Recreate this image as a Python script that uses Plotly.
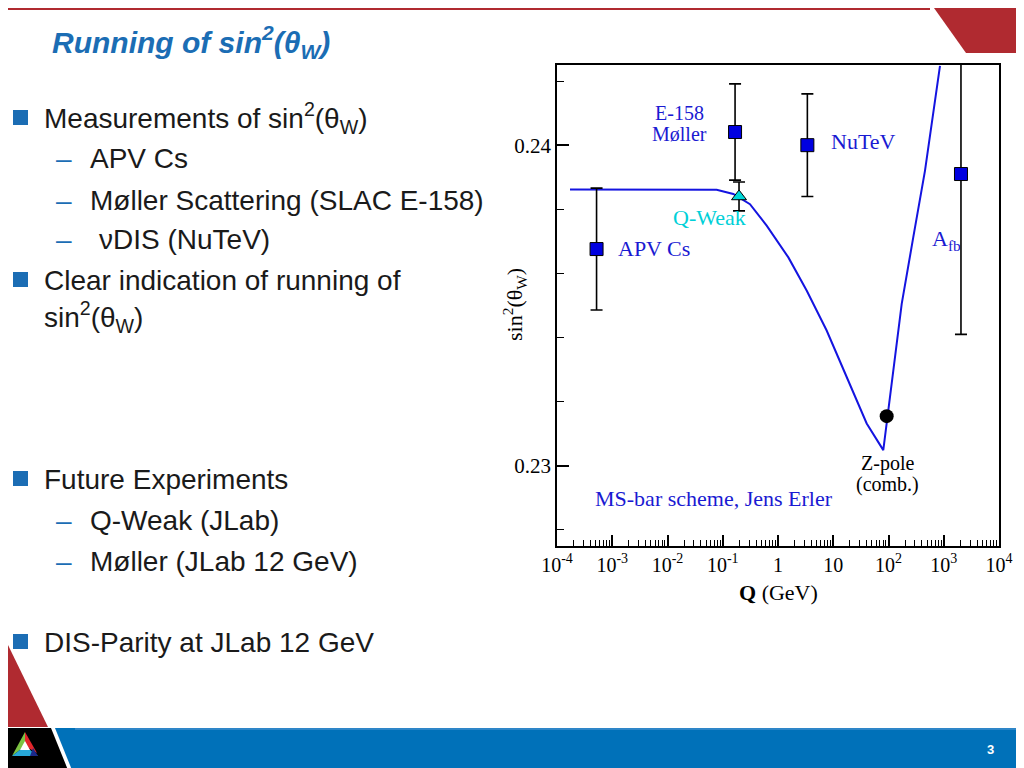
import plotly.graph_objects as go

W, H = 1024, 768
OFF = 8  # page body margin in the viewer


def px(x):
    return (x - OFF) / W


def py(y):
    return 1 - (y - OFF) / H


def poly(pts):
    s = "M " + " L ".join(f"{px(x):.5f},{py(y):.5f}" for x, y in pts) + " Z"
    return s


# ---------------- data ----------------
exp_names = ["APV Cs", "E-158 Møller", "NuTeV", "A_fb"]
exp_q = [5.2e-4, 0.167, 3.4, 2050.0]
exp_s2 = [0.23676, 0.24041, 0.2400, 0.2391]
exp_err = [0.0019, 0.0015, 0.0016, 0.0050]

qweak_q = [0.197]
qweak_s2 = [0.2384]
qweak_err = [0.00045]

zpole_q = [92.7]
zpole_s2 = [0.23155]

curve_q = [1.72e-4, 0.0387, 0.0776, 0.155, 0.311, 0.624, 1.54, 3.30, 7.60,
           17.5, 40.3, 80.5, 92.7, 173.4, 281.0, 457.0, 855.0]
curve_s2 = [0.23862, 0.23862, 0.23861, 0.23848, 0.23816, 0.23749, 0.23650,
            0.23547, 0.23422, 0.23277, 0.23132, 0.23049, 0.23132, 0.23505,
            0.23713, 0.2392, 0.24247]

x_tickvals = [1e-4, 1e-3, 1e-2, 1e-1, 1, 10, 1e2, 1e3, 1e4]
x_ticktext = ["10<sup>-4</sup>", "10<sup>-3</sup>", "10<sup>-2</sup>", "10<sup>-1</sup>",
              "1", "10", "10<sup>2</sup>", "10<sup>3</sup>", "10<sup>4</sup>"]
x_minor = [k * 10.0 ** n for n in range(-4, 4) for k in range(2, 10)]
y_tickvals = [0.23, 0.24]
y_ticktext = ["0.23", "0.24"]
y_minor = [0.228, 0.232, 0.234, 0.236, 0.238, 0.242]

SERIF = "Liberation Serif, Times New Roman, serif"
SANS = "Liberation Sans, Arial, sans-serif"
CBLUE = "#1a1ad2"
SLIDE_BLUE = "#1b6db4"
TXT = "#1a1a1a"

fig = go.Figure()

fig.add_trace(go.Scatter(x=curve_q, y=curve_s2, mode="lines",
                         line=dict(color="#1414e0", width=2), hoverinfo="skip"))

fig.add_trace(go.Scatter(
    x=exp_q, y=exp_s2, mode="markers", name="data",
    marker=dict(symbol="square", size=13, color="#0000e0",
                line=dict(color="black", width=1)),
    error_y=dict(type="data", array=exp_err, color="black", thickness=1.6, width=6)))

fig.add_trace(go.Scatter(
    x=qweak_q, y=qweak_s2, mode="markers",
    marker=dict(symbol="triangle-up", size=13, color="#00d8d8",
                line=dict(color="black", width=1)),
    error_y=dict(type="data", array=qweak_err, color="black", thickness=1.6, width=6)))

fig.add_trace(go.Scatter(
    x=zpole_q, y=zpole_s2, mode="markers",
    marker=dict(symbol="circle", size=14, color="black")))

fig.update_layout(
    width=W, height=H, margin=dict(l=0, r=0, t=0, b=0, pad=0, autoexpand=False),
    autosize=False,
    paper_bgcolor="white", plot_bgcolor="white", showlegend=False,
    xaxis=dict(type="log", range=[-4, 4], domain=[px(557), px(999)],
               automargin=False,
               showline=True, mirror=True, linecolor="black", linewidth=1.5,
               showgrid=False, zeroline=False,
               tickmode="array", tickvals=x_tickvals, ticktext=x_ticktext,
               ticks="inside", ticklen=11, tickwidth=1.5, tickcolor="black",
               tickfont=dict(family=SERIF, size=20, color="black"),
               minor=dict(tickmode="array", tickvals=x_minor, ticks="inside",
                          ticklen=6, tickwidth=1.2, tickcolor="black", showgrid=False)),
    yaxis=dict(range=[0.2275, 0.2425], domain=[py(546), py(65)],
               automargin=False,
               showline=True, mirror=True, linecolor="black", linewidth=1.5,
               showgrid=False, zeroline=False,
               tickmode="array", tickvals=y_tickvals, ticktext=y_ticktext,
               ticks="inside", ticklen=12, tickwidth=1.5, tickcolor="black",
               tickfont=dict(family=SERIF, size=21, color="black"),
               minor=dict(tickmode="array", tickvals=y_minor, ticks="inside",
                          ticklen=7, tickwidth=1.2, tickcolor="black", showgrid=False)),
)

ann = []


def text(x, y, s, size, color, family, xanchor="left", bold=False, angle=0):
    if bold:
        s = f"<b>{s}</b>"
    ann.append(dict(x=px(x), y=py(y), xref="paper", yref="paper", text=s,
                    showarrow=False, xanchor=xanchor, yanchor="middle",
                    textangle=angle,
                    font=dict(size=size, color=color, family=family)))


# chart labels
text(679, 113, "E-158", 20, CBLUE, SERIF, "center")
text(679, 134, "Møller", 20, CBLUE, SERIF, "center")
text(829, 142, "NuTeV", 22, CBLUE, SERIF)
text(616, 248, "APV Cs", 22, CBLUE, SERIF)
text(709, 217, "Q-Weak", 22, "#00d0d8", SERIF, "center")
text(930, 240, "A<sub>fb</sub>", 22, CBLUE, SERIF)
text(887, 463, "Z-pole", 20, "black", SERIF, "center")
text(887, 484, "(comb.)", 20, "black", SERIF, "center")
text(593, 498, "MS-bar scheme, Jens Erler", 22, CBLUE, SERIF)
text(778, 592, "<b>Q</b> (GeV)", 22, "black", SERIF, "center")
text(514, 305, "sin<sup>2</sup>(θ<sub>W</sub>)", 22, "black", SERIF, "center", angle=-90)

# slide title
text(50, 42, "<b><i>Running of sin<sup>2</sup>(θ<sub>W</sub>)</i></b>", 30, SLIDE_BLUE, SANS)

# bullets
main_items = [(118, "Measurements of sin<sup>2</sup>(θ<sub>W</sub>)"),
              (280, "Clear indication of running of"),
              (479, "Future Experiments"),
              (642, "DIS-Parity at JLab 12 GeV")]
sub_items = [(158, 88, "APV Cs"),
             (200, 88, "Møller Scattering (SLAC E-158)"),
             (240, 97, "νDIS (NuTeV)"),
             (520, 88, "Q-Weak (JLab)"),
             (561, 88, "Møller (JLab 12 GeV)")]
for y, s in main_items:
    text(42, y, s, 28, TXT, SANS)
text(42, 317, "sin<sup>2</sup>(θ<sub>W</sub>)", 28, TXT, SANS)
for y, x, s in sub_items:
    text(54, y, "–", 28, SLIDE_BLUE, SANS)
    text(x, y, s, 28, TXT, SANS)

text(990, 749, "<b>3</b>", 13, "white", SANS, "center")

shapes = []


def rect(x0, y0, x1, y1, color):
    shapes.append(dict(type="rect", xref="paper", yref="paper", x0=px(x0), x1=px(x1),
                       y0=py(y1), y1=py(y0), fillcolor=color, line=dict(width=0),
                       layer="below"))


def pshape(pts, color, layer="below"):
    shapes.append(dict(type="path", xref="paper", yref="paper", path=poly(pts),
                       fillcolor=color, line=dict(width=0), layer=layer))


RED = "#b02a30"
rect(8, 8, 930, 10, RED)
pshape([(934, 8), (1040, 8), (1040, 53), (966, 53)], RED)
pshape([(8, 645), (8, 727), (48, 727)], RED)
pshape([(8, 728), (51, 728), (72, 780), (8, 780)], "black")
pshape([(55, 728), (1040, 728), (1040, 780), (76, 780)], "#0071b9")
rect(75, 728, 1040, 730, "#2e86c8")

# logo
C = (25, 746)
pshape([(25, 732), (12, 756), C], "#7cc242")
pshape([(25, 732), (37, 753), C], "#e3262b")
pshape([(12, 756), (38, 756), C], "#27a8d8")
pshape([(33, 748), (38, 756), (30, 756)], "#1c2a8a")
pshape([(25, 741), (20, 750), (30, 750)], "white")

# bullet squares
for y, s in main_items:
    rect(13, y - 8, 28, y + 7, SLIDE_BLUE)

fig.update_layout(annotations=ann, shapes=shapes)
fig.write_html("out.html")
